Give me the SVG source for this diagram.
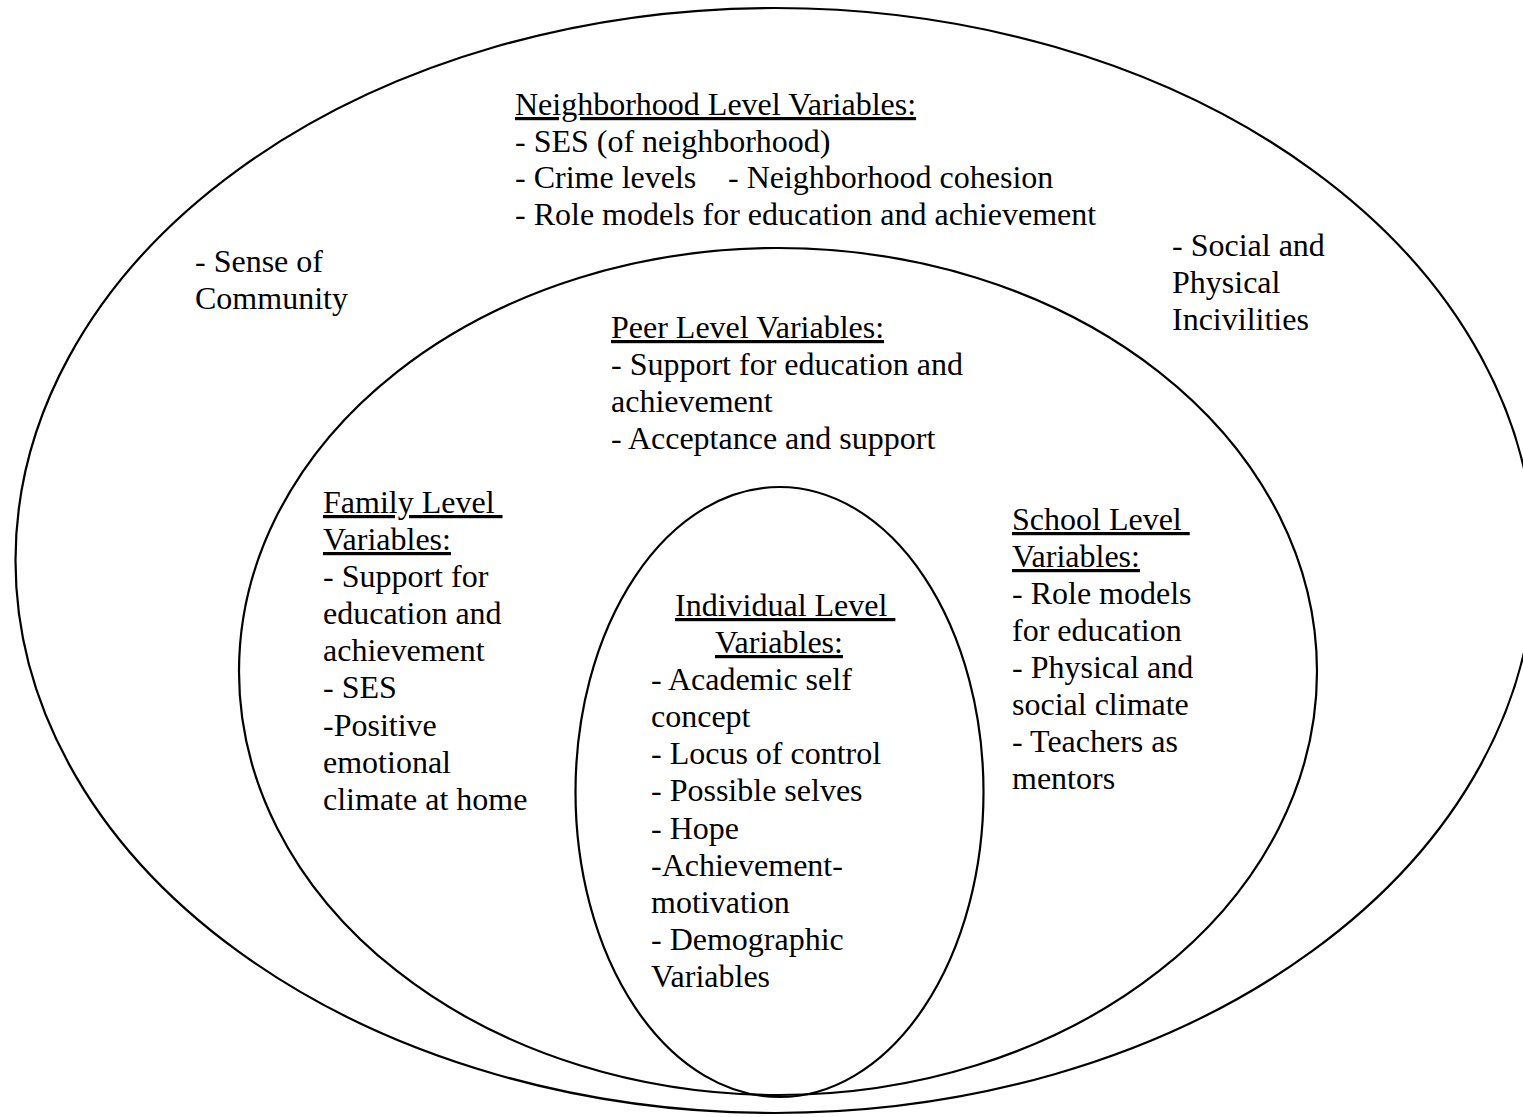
<svg xmlns="http://www.w3.org/2000/svg" width="1523" height="1117" viewBox="0 0 1523 1117">
  <style>
    .ring { fill: none; stroke: #000; stroke-width: 2.2; }
    .label { font-family: "Liberation Serif", "Times New Roman", serif; font-size: 32px; fill: #000; }
    .head { text-decoration: underline; white-space: pre; }
  </style>
  <rect width="1523" height="1117" fill="#fff"/>

  <!-- Nested levels: neighborhood, peer/family/school, individual -->
  <g id="neighborhood">
    <ellipse class="ring" cx="775" cy="560.5" rx="759.5" ry="552.5"/>
    <text class="label" x="515" y="115">
      <tspan class="head">Neighborhood Level Variables:</tspan>
      <tspan x="515" y="152">- SES (of neighborhood)</tspan>
      <tspan x="515" y="188">- Crime levels</tspan>
      <tspan x="728" y="188">- Neighborhood cohesion</tspan>
      <tspan x="515" y="225">- Role models for education and achievement</tspan>
    </text>
    <text class="label" x="195" y="272">- Sense of<tspan x="195" y="309">Community</tspan></text>
    <text class="label" x="1172" y="256">- Social and<tspan x="1172" y="293">Physical</tspan><tspan x="1172" y="330">Incivilities</tspan></text>
  </g>

  <g id="middle-level">
    <ellipse class="ring" cx="778" cy="671.5" rx="539" ry="423.5"/>
  </g>

  <g id="peer">
    <text class="label" x="611" y="338">
      <tspan class="head">Peer Level Variables:</tspan>
      <tspan x="611" y="375">- Support for education and</tspan>
      <tspan x="611" y="412">achievement</tspan>
      <tspan x="611" y="449">- Acceptance and support</tspan>
    </text>
  </g>

  <g id="family">
    <text class="label" x="323" y="513">
      <tspan class="head">Family Level </tspan>
      <tspan class="head" x="323" y="550">Variables:</tspan>
      <tspan x="323" y="587">- Support for</tspan>
      <tspan x="323" y="624">education and</tspan>
      <tspan x="323" y="661">achievement</tspan>
      <tspan x="323" y="698">- SES</tspan>
      <tspan x="323" y="736">-Positive</tspan>
      <tspan x="323" y="773">emotional</tspan>
      <tspan x="323" y="810">climate at home</tspan>
    </text>
  </g>

  <g id="school">
    <text class="label" x="1012" y="530">
      <tspan class="head">School Level </tspan>
      <tspan class="head" x="1012" y="567">Variables:</tspan>
      <tspan x="1012" y="604">- Role models</tspan>
      <tspan x="1012" y="641">for education</tspan>
      <tspan x="1012" y="678">- Physical and</tspan>
      <tspan x="1012" y="715">social climate</tspan>
      <tspan x="1012" y="752">- Teachers as</tspan>
      <tspan x="1012" y="789">mentors</tspan>
    </text>
  </g>

  <g id="individual">
    <ellipse class="ring" cx="779.5" cy="792" rx="204" ry="305"/>
    <text class="label" x="675" y="616">
      <tspan class="head">Individual Level </tspan>
      <tspan class="head" x="715" y="653">Variables:</tspan>
      <tspan x="651" y="690">- Academic self</tspan>
      <tspan x="651" y="727">concept</tspan>
      <tspan x="651" y="764">- Locus of control</tspan>
      <tspan x="651" y="801">- Possible selves</tspan>
      <tspan x="651" y="839">- Hope</tspan>
      <tspan x="651" y="876">-Achievement-</tspan>
      <tspan x="651" y="913">motivation</tspan>
      <tspan x="651" y="950">- Demographic</tspan>
      <tspan x="651" y="987">Variables</tspan>
    </text>
  </g>

  <g id="connectors"/>
</svg>
